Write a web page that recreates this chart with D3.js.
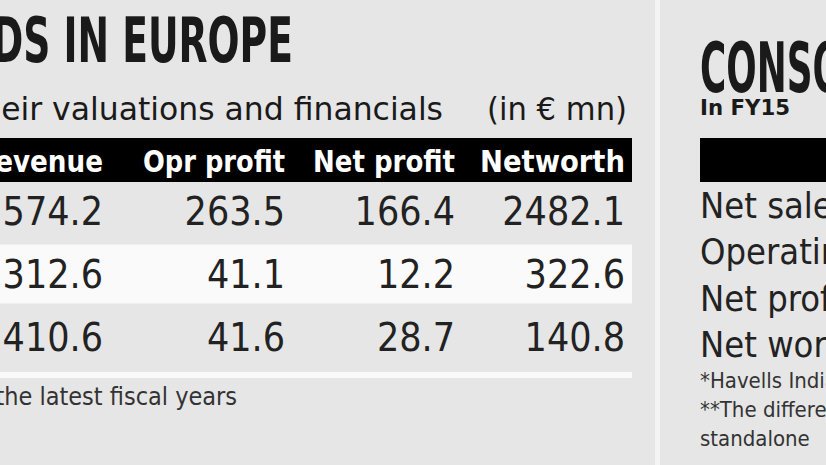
<!DOCTYPE html>
<html><head><meta charset="utf-8">
<script src="https://cdn.jsdelivr.net/npm/d3@7"></script>
<style>body{margin:0;background:#e6e6e6}svg{display:block}</style>
</head><body><div id="c"></div>
<script>
const headers = ["Revenue", "Opr profit", "Net profit", "Networth"]
const revenue = [2574.2, 1312.6, 410.6]
const oprProfit = [263.5, 41.1, 41.6]
const netProfit = [166.4, 12.2, 28.7]
const networth = [2482.1, 322.6, 140.8]
const rightLabels = ["Net sales", "Operating profit", "Net profit", "Net worth"]
const rightNotes = ["*Havells India", "**The difference", "standalone"]

const width = 826, height = 465
const svg = d3.select("#c").append("svg").attr("width", width).attr("height", height)
svg.append("rect").attr("width", width).attr("height", height).attr("fill", "#e6e6e6")
svg.append("rect").attr("x", 655).attr("y", 0).attr("width", 5).attr("height", height).attr("fill", "#f4f4f4")

const cond = "'DejaVu Sans Condensed','DejaVu Sans',sans-serif"

function txt(x, y, s, size, opts = {}) {
  const t = svg.append("text").attr("x", x).attr("y", y)
    .attr("font-family", cond).attr("font-size", size)
    .attr("font-weight", opts.bold ? "bold" : "normal")
    .attr("fill", opts.fill || "#1a1a1a").attr("text-anchor", opts.anchor || "start").text(s)
  if (opts.len) t.attr("textLength", opts.len).attr("lengthAdjust", "spacingAndGlyphs")
  return t
}

// titles
txt(-103, 62, "GOODS IN EUROPE", 62, {bold: true, len: 396})
txt(-38, 120, "Their valuations and financials", 32, {len: 481})
txt(627, 120, "(in € mn)", 32, {anchor: "end", len: 140})

// table
const cols = d3.scaleOrdinal().domain(headers).range([103, 285, 455, 625])
const hdrLen = d3.scaleOrdinal().domain(headers).range([128, 142, 142, 145])
const rows = d3.scaleBand().domain(d3.range(3)).range([188, 360]).paddingInner(0.25)
svg.append("rect").attr("x", 0).attr("y", 138).attr("width", 632).attr("height", 44).attr("fill", "#000")
svg.append("rect").attr("x", 0).attr("y", rows(1) - 6).attr("width", 632).attr("height", rows.bandwidth() + 12).attr("fill", "#fafafa")
svg.append("rect").attr("x", 0).attr("y", 372).attr("width", 632).attr("height", 6).attr("fill", "#fafafa")

headers.forEach(h => txt(cols(h), 172, h, 30, {bold: true, fill: "#fff", anchor: "end", len: hdrLen(h)}))

const fmt = d3.format(",.1f")
const series = [revenue, oprProfit, netProfit, networth]
series.forEach((s, ci) => {
  s.forEach((d, i) => txt(cols(headers[ci]), rows(i) + rows.bandwidth() / 2 + 14,
    ci === 0 ? fmt(d) : d3.format(".1f")(d), 39, {fill: "#222", anchor: "end"}))
})

txt(-58, 405, "*For the latest fiscal years", 24, {fill: "#333", len: 295})

// right panel
txt(700, 92, "CONSOLIDATED", 70, {bold: true, len: 312})
txt(700, 115, "In FY15", 22, {bold: true, len: 90})
svg.append("rect").attr("x", 700).attr("y", 138).attr("width", 126).attr("height", 44).attr("fill", "#000")
const ry = d3.scalePoint().domain(rightLabels).range([218, 357])
rightLabels.forEach(l => txt(700, ry(l), l, 36, {fill: "#222"}))
const ny = d3.scalePoint().domain(rightNotes).range([388, 446])
rightNotes.forEach(n => txt(700, ny(n), n, 22, {fill: "#333"}))
</script></body></html>
